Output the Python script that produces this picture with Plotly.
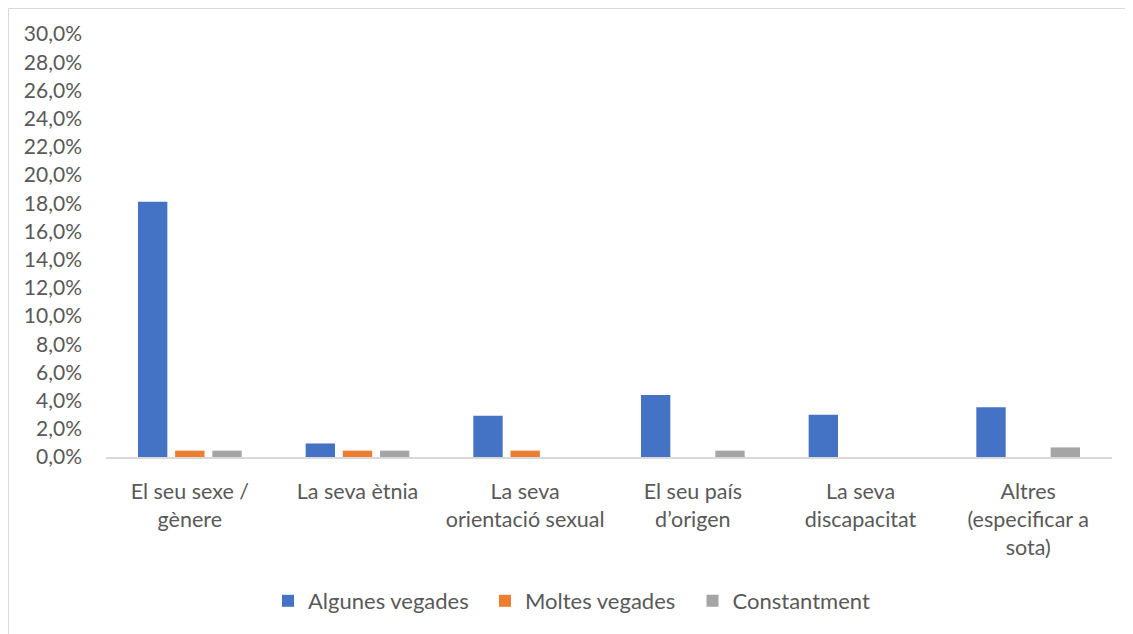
import plotly.graph_objects as go

categories = ["El seu sexe /<br>gènere", "La seva ètnia", "La seva<br>orientació sexual",
              "El seu país<br>d’origen", "La seva<br>discapacitat", "Altres<br>(especificar a<br>sota)"]
algunes = [0.181, 0.0096, 0.0293, 0.044, 0.030, 0.0352]
moltes = [0.0045, 0.0045, 0.0045, None, None, None]
constantment = [0.0045, 0.0045, None, 0.0045, None, 0.0068]
series = [("Algunes vegades", algunes, "#4472C4"),
          ("Moltes vegades", moltes, "#ED7D31"),
          ("Constantment", constantment, "#A5A5A5")]
y_ticks = [i / 100 for i in range(0, 31, 2)]

FONT = "Lato"
TXT = "#595959"

W, H = 1133, 634
L, R, T, B = 98, 29, 26, 185
pw, ph = W - L - R, H - T - B

def px(x):
    return (x - L) / pw

def py(y):
    return (H - B - y) / ph

legend_names = ["legend", "legend2", "legend3"]
legend_x = [260, 477, 684.5]

fig = go.Figure()
for (name, vals, col), lg in zip(series, legend_names):
    fig.add_trace(go.Bar(x=categories, y=vals, name=name, marker_color=col,
                         marker_line_width=0, legend=lg))

legend_layout = {}
for lg, lx in zip(legend_names, legend_x):
    legend_layout[lg] = dict(orientation="h", x=px(lx), xanchor="left", y=py(593),
                             yanchor="middle", font=dict(family=FONT, size=22, color=TXT),
                             itemwidth=30, bgcolor="rgba(0,0,0,0)")

fig.update_layout(
    width=W, height=H,
    margin=dict(l=L, r=R, t=T, b=B),
    paper_bgcolor="white", plot_bgcolor="white",
    barmode="group", bargap=0.335, bargroupgap=0.21,
    separators=", ",
    font=dict(family=FONT, size=21.5, color=TXT),
    showlegend=True,
    shapes=[dict(type="rect", xref="paper", yref="paper",
                 x0=px(0.5), x1=px(1150), y0=py(650), y1=py(0.5),
                 line=dict(color="#D9D9D9", width=1), fillcolor="rgba(0,0,0,0)", layer="below")],
    **legend_layout,
)
fig.update_yaxes(range=[0, 0.30], tickvals=y_ticks, tickformat=".1%", showgrid=False,
                 zeroline=False, showline=False, ticks="", ticklabelstandoff=23,
                 tickfont=dict(family=FONT, size=21, color=TXT))
fig.update_xaxes(showline=True, linecolor="#D9D9D9", linewidth=2, ticks="outside",
                 ticklen=14, tickcolor="rgba(0,0,0,0)", showgrid=False,
                 tickfont=dict(family=FONT, size=21.5, color=TXT), tickangle=0)

fig.write_html("out.html")
